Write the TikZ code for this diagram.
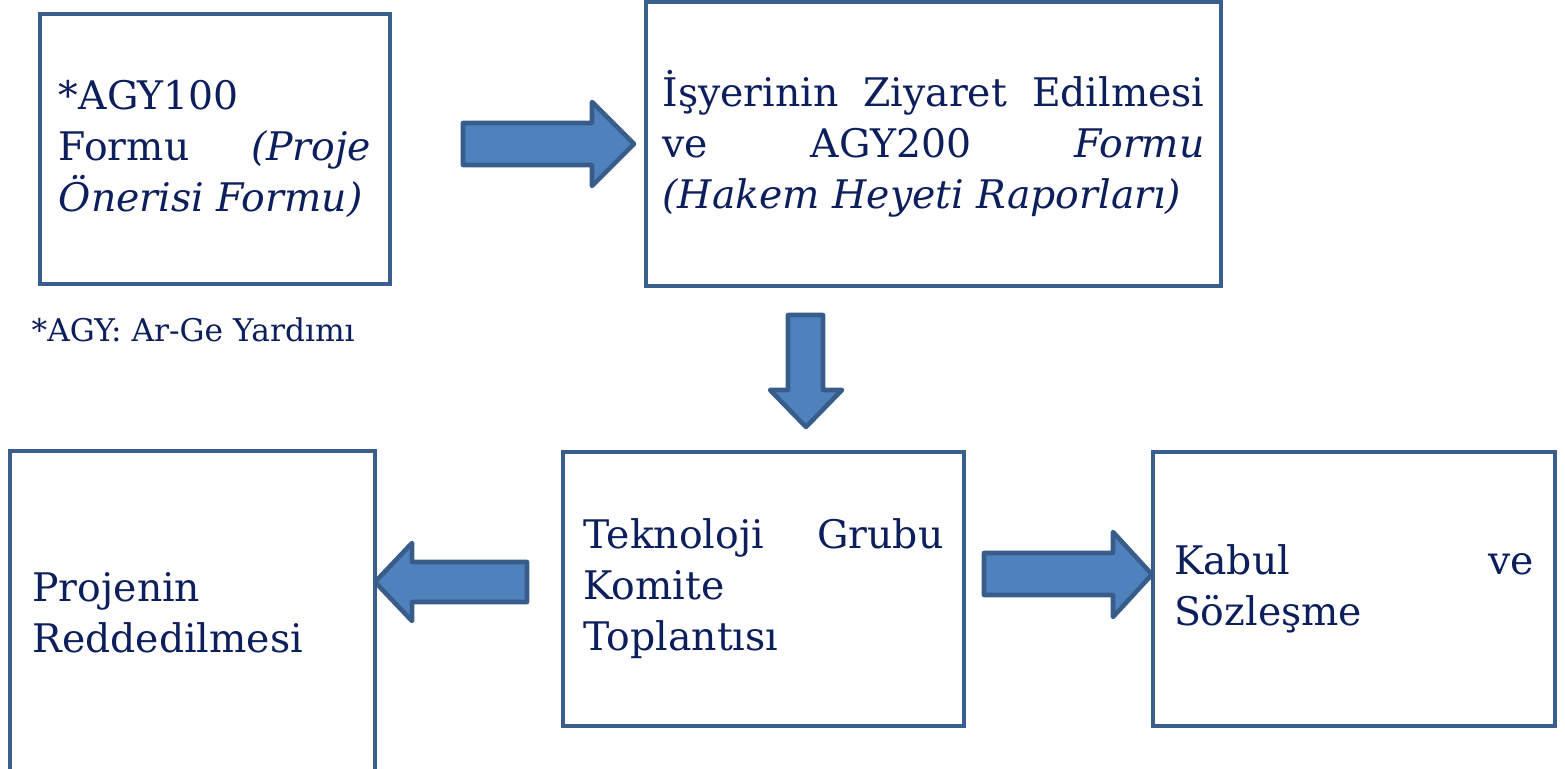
\documentclass[tikz,border=0pt]{standalone}
\usepackage{fontspec}
\setmainfont{DejaVu Serif}
\usetikzlibrary{positioning}
\definecolor{boxline}{HTML}{3A5F8E}
\definecolor{arrfill}{HTML}{4F81BD}
\definecolor{arrline}{HTML}{385D8A}
\definecolor{navytext}{HTML}{0C1E5B}
\tikzset{
	% boxes
	flowbox/.style={draw=boxline,line width=1.4pt,rectangle,inner sep=0pt,
		align=justify,text=navytext,font=\fontsize{11.2}{14.5}\selectfont},
	% block arrows
	blockarr/.style={fill=arrfill,draw=arrline,line width=1.3pt,line join=round},
}

\begin{document}
\begin{tikzpicture}
	\useasboundingbox (0,0) rectangle (15.65,-7.69);
	
	\node[flowbox,minimum width=3.5cm,minimum height=2.7cm,text width=3.12cm] (agyform) at (2.15,-1.49)
		{*AGY100\\ Formu \textit{(Proje}\linebreak \textit{Önerisi Formu)}};
	\node[flowbox,minimum width=5.75cm,minimum height=2.84cm,text width=5.42cm] (ziyaret) at (9.335,-1.44)
		{İşyerinin Ziyaret Edilmesi\linebreak ve AGY200 \textit{Formu}\linebreak \textit{(Hakem Heyeti Raporları)}};
	\node[text=navytext,font=\fontsize{8.9}{10}\selectfont,anchor=base west,inner sep=0pt] (dipnot) at (0.31,-3.42)
		{*AGY: Ar-Ge Yardımı};
	
	\node[flowbox,minimum width=3.65cm,minimum height=3.24cm,text width=3.2cm] (red) at (1.925,-6.13)
		{Projenin\\ Reddedilmesi};
	\node[flowbox,minimum width=4.01cm,minimum height=2.74cm,text width=3.6cm] (komite) at (7.635,-5.89)
		{Teknoloji Grubu\linebreak Komite\\ Toplantısı};
	\node[flowbox,minimum width=4.02cm,minimum height=2.74cm,text width=3.6cm] (kabul) at (13.54,-5.89)
		{Kabul ve\linebreak Sözleşme};
	
	% arrows
	\draw[blockarr] (4.63,-1.23) -- (5.92,-1.23) -- (5.92,-1.02) -- (6.34,-1.44) -- (5.92,-1.86) -- (5.92,-1.65) -- (4.63,-1.65) -- cycle;
	\draw[blockarr] (7.88,-3.15) -- (8.23,-3.15) -- (8.23,-3.90) -- (8.42,-3.90) -- (8.06,-4.27) -- (7.70,-3.90) -- (7.88,-3.90) -- cycle;
	\draw[blockarr] (5.27,-5.62) -- (4.12,-5.62) -- (4.12,-5.43) -- (3.75,-5.82) -- (4.12,-6.21) -- (4.12,-6.02) -- (5.27,-6.02) -- cycle;
	\draw[blockarr] (9.84,-5.53) -- (11.13,-5.53) -- (11.13,-5.32) -- (11.52,-5.745) -- (11.13,-6.17) -- (11.13,-5.95) -- (9.84,-5.95) -- cycle;
	
\end{tikzpicture}
\end{document}
